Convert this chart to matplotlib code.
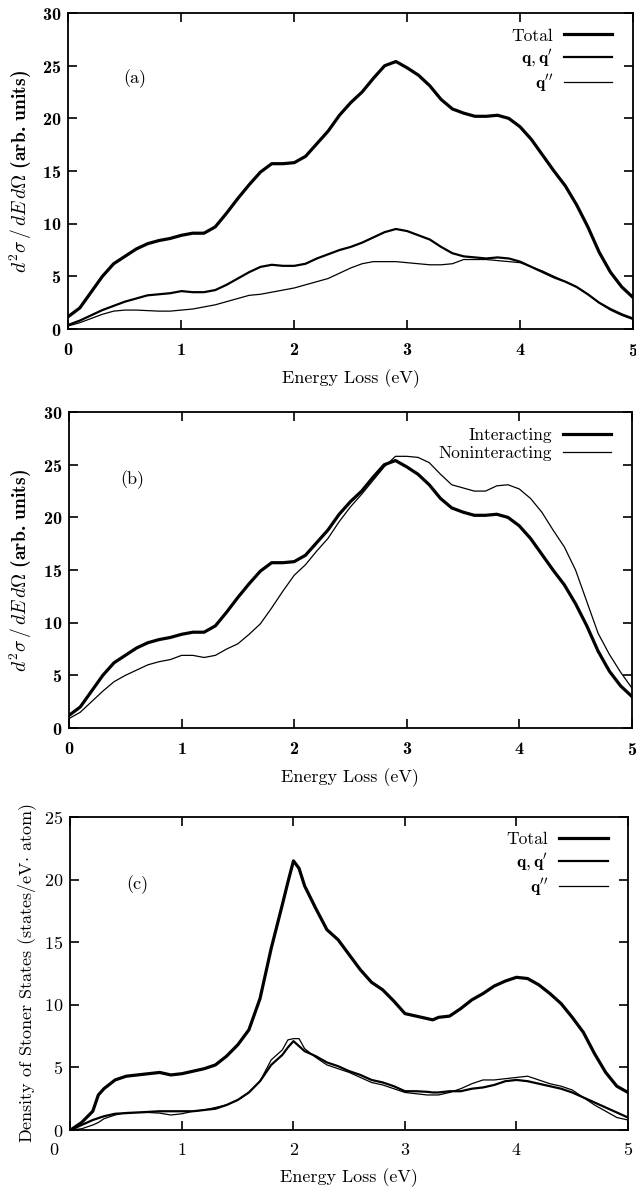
import matplotlib
matplotlib.use("Agg")
import matplotlib.pyplot as plt
import numpy as np

plt.rcParams['font.family'] = 'cmr10'
plt.rcParams['mathtext.fontset'] = 'cm'
plt.rcParams['axes.formatter.use_mathtext'] = True
plt.rcParams['axes.unicode_minus'] = False

# ---- data: panels (a) and (b), energy loss grid 0..5 eV step 0.1
energy_ab = np.round(np.arange(0, 5.01, 0.1), 2)

total_ab = [1.2, 2.0, 3.5, 5.0, 6.2, 6.9, 7.6, 8.1, 8.4, 8.6,
            8.9, 9.1, 9.1, 9.7, 11.0, 12.4, 13.7, 14.9, 15.7, 15.7,
            15.8, 16.4, 17.6, 18.8, 20.3, 21.5, 22.5, 23.8, 25.0, 25.4,
            24.8, 24.1, 23.1, 21.8, 20.9, 20.5, 20.2, 20.2, 20.3, 20.0,
            19.2, 18.0, 16.5, 15.0, 13.6, 11.8, 9.7, 7.3, 5.4, 4.0,
            3.0]

qqp_a = [0.4, 0.8, 1.3, 1.8, 2.2, 2.6, 2.9, 3.2, 3.3, 3.4,
         3.6, 3.5, 3.5, 3.7, 4.2, 4.8, 5.4, 5.9, 6.1, 6.0,
         6.0, 6.2, 6.7, 7.1, 7.5, 7.8, 8.2, 8.7, 9.2, 9.5,
         9.3, 8.9, 8.5, 7.8, 7.2, 6.9, 6.8, 6.7, 6.8, 6.7,
         6.4, 5.9, 5.4, 4.9, 4.5, 4.0, 3.3, 2.5, 1.9, 1.4,
         1.0]

qpp_a = [0.3, 0.6, 1.0, 1.4, 1.7, 1.8, 1.8, 1.75, 1.7, 1.7,
         1.8, 1.9, 2.1, 2.3, 2.6, 2.9, 3.2, 3.3, 3.5, 3.7,
         3.9, 4.2, 4.5, 4.8, 5.3, 5.8, 6.2, 6.4, 6.4, 6.4,
         6.3, 6.2, 6.1, 6.1, 6.2, 6.6, 6.6, 6.6, 6.5, 6.4,
         6.3, 5.9, 5.5, 5.0, 4.5, 4.0, 3.3, 2.5, 1.8, 1.3,
         0.9]

nonint_b = [0.9, 1.5, 2.5, 3.5, 4.4, 5.0, 5.5, 6.0, 6.3, 6.5,
            6.9, 6.9, 6.7, 6.9, 7.5, 8.0, 8.9, 9.9, 11.4, 13.0,
            14.5, 15.5, 16.8, 18.0, 19.6, 21.0, 22.2, 23.5, 24.8, 25.8,
            25.8, 25.7, 25.2, 24.1, 23.1, 22.8, 22.5, 22.5, 23.0, 23.1,
            22.7, 21.8, 20.5, 18.8, 17.2, 15.0, 12.0, 9.0, 7.0, 5.3,
            3.8]

# ---- data: panel (c)
energy_c = [0.0, 0.1, 0.2, 0.25, 0.3, 0.4, 0.5, 0.6, 0.7, 0.8, 0.9,
            1.0, 1.1, 1.2, 1.3, 1.4, 1.5, 1.6, 1.7, 1.8, 1.9, 1.95,
            2.0, 2.05, 2.1, 2.2, 2.3, 2.4, 2.5, 2.6, 2.7, 2.8, 2.9,
            3.0, 3.1, 3.2, 3.25, 3.3, 3.4, 3.5, 3.6, 3.7, 3.8, 3.9,
            4.0, 4.1, 4.2, 4.3, 4.4, 4.5, 4.6, 4.7, 4.8, 4.9, 5.0]

total_c = [0.0, 0.6, 1.5, 2.8, 3.3, 4.0, 4.3, 4.4, 4.5, 4.6, 4.4,
           4.5, 4.7, 4.9, 5.2, 5.9, 6.8, 8.0, 10.5, 14.5, 18.0, 19.8,
           21.5, 20.9, 19.5, 17.7, 16.0, 15.2, 14.0, 12.8, 11.8, 11.2, 10.3,
           9.3, 9.1, 8.9, 8.8, 9.0, 9.1, 9.7, 10.4, 10.9, 11.5, 11.9,
           12.2, 12.1, 11.6, 10.9, 10.1, 9.0, 7.8, 6.1, 4.6, 3.5, 3.0]

qqp_c = [0.0, 0.4, 0.8, 0.95, 1.1, 1.3, 1.35, 1.4, 1.45, 1.5, 1.5,
         1.5, 1.5, 1.6, 1.7, 2.0, 2.4, 3.0, 3.9, 5.2, 6.0, 6.6,
         7.1, 6.7, 6.3, 5.9, 5.4, 5.1, 4.7, 4.4, 4.0, 3.8, 3.5,
         3.1, 3.1, 3.05, 3.0, 3.0, 3.1, 3.1, 3.3, 3.4, 3.6, 3.9,
         4.0, 3.9, 3.7, 3.5, 3.3, 3.0, 2.6, 2.2, 1.8, 1.4, 1.0]

qpp_c = [0.0, 0.1, 0.4, 0.6, 0.9, 1.2, 1.4, 1.4, 1.4, 1.35, 1.2,
         1.3, 1.5, 1.6, 1.8, 2.0, 2.4, 3.0, 3.9, 5.6, 6.4, 7.2,
         7.3, 7.3, 6.5, 5.8, 5.2, 4.9, 4.6, 4.2, 3.8, 3.6, 3.3,
         3.0, 2.9, 2.8, 2.8, 2.8, 3.0, 3.3, 3.7, 4.0, 4.0, 4.1,
         4.2, 4.3, 4.0, 3.7, 3.5, 3.2, 2.6, 2.0, 1.5, 1.0, 0.8]

xticks = [0, 1, 2, 3, 4, 5]

THICK, MED, THIN = 2.3, 1.6, 0.9
FS = 13
XPAD = 9


def style_axes(ax, ymax, bold_ticks):
    ax.set_xlim(0, 5)
    ax.set_ylim(0, ymax)
    ax.set_xticks(xticks)
    ax.set_yticks(np.arange(0, ymax + 1, 5))
    ax.tick_params(direction='in', length=6.5, width=1.2, top=True, right=True,
                   labelsize=FS, pad=5)
    ax.tick_params(axis='x', pad=XPAD)
    for s in ax.spines.values():
        s.set_linewidth(1.3)
    fam = 'cmb10' if bold_ticks else 'cmr10'
    for lab in ax.get_xticklabels() + ax.get_yticklabels():
        lab.set_family(fam)
    ax.set_xlabel("Energy Loss (eV)", fontsize=FS, labelpad=7.5)


def add_legend(ax):
    ax.legend(loc='upper right', bbox_to_anchor=(0.982, 0.985), markerfirst=False,
              frameon=False, fontsize=12.5, handlelength=2.8, labelspacing=0.2,
              handletextpad=0.6, borderaxespad=0.2)


fig = plt.figure(figsize=(6.36, 11.9), dpi=100)
ylab_ab = r"$d^2\sigma\,/\,dE\,d\Omega$ (arb. units)"

# (a)
ax = fig.add_axes([0.1077, 0.7235, 0.8876, 0.2655])
ax.plot(energy_ab, total_ab, color='black', lw=THICK, label="Total")
ax.plot(energy_ab, qqp_a, color='black', lw=MED, label=r"$\mathbf{q},\mathbf{q}'$")
ax.plot(energy_ab, qpp_a, color='black', lw=THIN, label=r"$\mathbf{q}''$")
style_axes(ax, 30, True)
ax.set_ylabel(ylab_ab, fontsize=14, family='cmb10', labelpad=6)
ax.text(0.118, 0.794, "(a)", transform=ax.transAxes, fontsize=FS, ha='center', va='center')
add_legend(ax)

# (b)
ax = fig.add_axes([0.1085, 0.3882, 0.885, 0.2655])
ax.plot(energy_ab, total_ab, color='black', lw=THICK, label="Interacting")
ax.plot(energy_ab, nonint_b, color='black', lw=THIN, label="Noninteracting")
style_axes(ax, 30, True)
ax.set_ylabel(ylab_ab, fontsize=14, family='cmb10', labelpad=6)
ax.text(0.112, 0.785, "(b)", transform=ax.transAxes, fontsize=FS, ha='center', va='center')
add_legend(ax)

# (c)
ax = fig.add_axes([0.1108, 0.0504, 0.8766, 0.263])
ax.plot(energy_c, total_c, color='black', lw=THICK, label="Total")
ax.plot(energy_c, qqp_c, color='black', lw=MED, label=r"$\mathbf{q},\mathbf{q}'$")
ax.plot(energy_c, qpp_c, color='black', lw=THIN, label=r"$\mathbf{q}''$")
style_axes(ax, 25, False)
# the "0" on this energy axis sits a little left of the corner
ax.set_xticklabels([''] + [str(t) for t in xticks[1:]])
ax.annotate(str(xticks[0]), xy=(xticks[0], 0), xycoords=('data', 'axes fraction'),
            xytext=(-12, -XPAD), textcoords='offset points', ha='center', va='top',
            fontsize=FS)
ax.set_ylabel(r"Density of Stoner States (states/eV$\cdot$ atom)", fontsize=FS)
ax.text(0.119, 0.783, "(c)", transform=ax.transAxes, fontsize=FS, ha='center', va='center')
add_legend(ax)

fig.savefig("out.png", dpi=100)
